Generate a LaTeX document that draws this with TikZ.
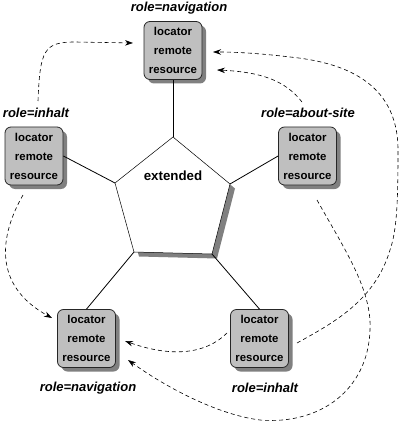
\documentclass[tikz,border=0pt]{standalone}
\usepackage{fontspec}
\setmainfont{Liberation Sans}
\usetikzlibrary{arrows.meta,shadows}
\begin{document}
\begin{tikzpicture}[x=1pt,y=-1pt,
  box/.style={draw=black!85, line width=0.8pt, fill=gray!50, rounded corners=6pt,
    minimum width=58pt, minimum height=58pt, inner sep=0pt, align=center,
    font=\bfseries\fontsize{11.4}{19}\selectfont,
    drop shadow={shadow xshift=4pt, shadow yshift=-4pt, fill=gray, opacity=1}},
  role/.style={font=\bfseries\itshape\fontsize{13}{15}\selectfont, inner sep=0pt},
  link/.style={line width=0.8pt},
  ref/.style={dash pattern=on 4pt off 3pt, line width=0.6pt, -{Stealth[length=8pt,width=5.5pt]}}]
\useasboundingbox (0,0) rectangle (400,422);

% pentagon
\coordinate (p1) at (173,137);
\coordinate (p2) at (230,184);
\coordinate (p3) at (212,254);
\coordinate (p4) at (134,252);
\coordinate (p5) at (115,183);
\fill[gray] ([shift={(5,4.5)}]p1) -- ([shift={(5,4.5)}]p2) -- ([shift={(5,4.5)}]p3) -- ([shift={(5,4.5)}]p4) -- ([shift={(5,4.5)}]p5) -- cycle;
\draw[fill=white, line width=0.5pt] (p1) -- (p2) -- (p3) -- (p4) -- (p5) -- cycle;
\node[font=\bfseries\fontsize{13.3}{15}\selectfont] (ext) at (173,176) {extended};

% boxes
\node[box] (nav1) at (173,50.5) {locator\\remote\\resource};
\node[box] (inh1) at (34,156) {locator\\remote\\resource};
\node[box] (about) at (307.5,156) {locator\\remote\\resource};
\node[box] (nav2) at (86.5,338.5) {locator\\remote\\resource};
\node[box] (inh2) at (259.5,338.5) {locator\\remote\\resource};

% labels
\node[role] (lnav1) at (179,8) {role=navigation};
\node[role] (linh1) at (36,113) {role=inhalt};
\node[role] (labout) at (308,113) {role=about-site};
\node[role] (lnav2) at (88,388) {role=navigation};
\node[role] (linh2) at (265,388) {role=inhalt};

% solid links
\draw[link] (p1) -- (nav1.south);
\draw[link] (p5) -- (inh1.east);
\draw[link] (p2) -- (about.west);
\draw[link] (p4) -- (nav2.north);
\draw[link] (p3) -- (inh2.north);

% dashed references
\coordinate (aS) at (38,101);   \coordinate (aE) at (133,43);
\coordinate (bS) at (23,195);   \coordinate (bE) at (52,318);
\coordinate (cS) at (302,102);  \coordinate (cE) at (217,70);
\coordinate (dS) at (297,343);  \coordinate (dE) at (213,52);
\coordinate (eS) at (227,333);  \coordinate (eE) at (125,341);
\coordinate (fS) at (317,200);  \coordinate (fE) at (128,360);

\draw[ref] (aS) .. controls (40,50) and (44,42) .. (75,42) -- (aE);
\draw[ref] (bS) .. controls (0,235) and (-8,285) .. (bE);
\draw[ref] (cS) .. controls (285,80) and (260,72) .. (cE);
\draw[ref] (dS) .. controls (335,322) and (375,300) .. (390,250)
  .. controls (397,230) and (398,200) .. (398,150)
  .. controls (398,80) and (340,62) .. (290,57)
  .. controls (265,54) and (240,52) .. (dE);
\draw[ref] (eS) .. controls (205,355) and (170,357) .. (eE);
\draw[ref] (fS) .. controls (345,250) and (372,290) .. (370,330)
  .. controls (368,390) and (320,425) .. (260,420)
  .. controls (220,415) and (170,390) .. (fE);
\end{tikzpicture}
\end{document}
